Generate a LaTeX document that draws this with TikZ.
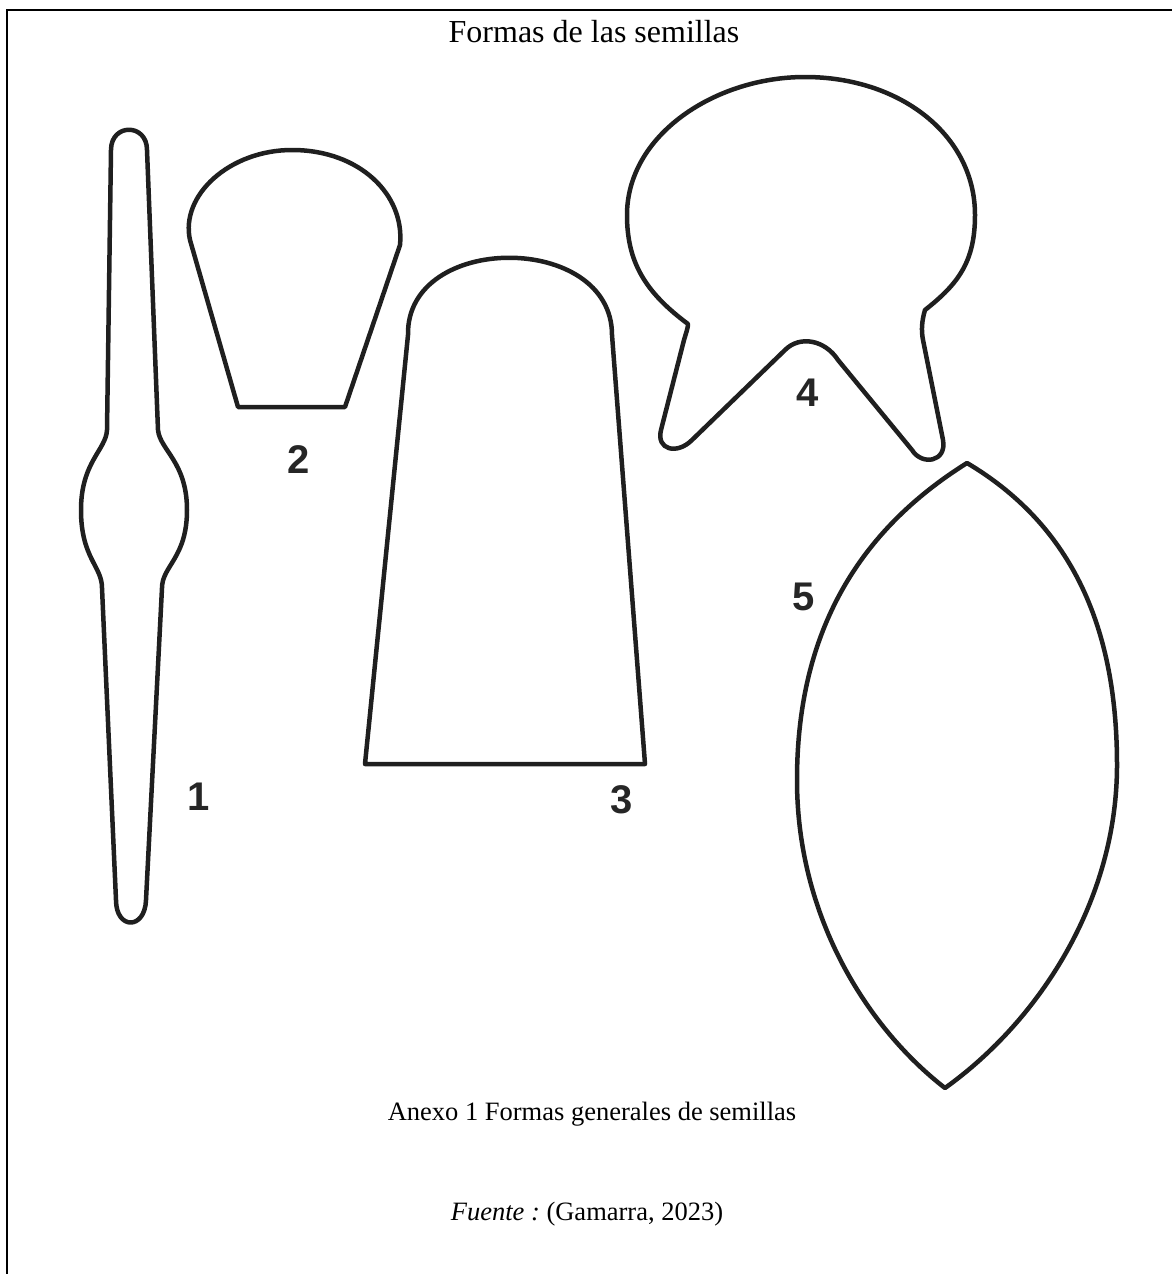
\documentclass[tikz,border=0pt]{standalone}
\usepackage{fontspec}
\setmainfont{Liberation Serif}
\newfontfamily\digitfont{Liberation Sans}
\frenchspacing
\begin{document}
\begin{tikzpicture}[x=1pt,y=-1pt,
  seed/.style={draw=black!88,line width=4.5pt,line join=round},
  tag/.style={font=\digitfont\bfseries\fontsize{40}{40}\selectfont,inner sep=0pt,text=black!85},
  frameline/.style={draw=black,line width=2.5pt}]
\useasboundingbox (0,0) rectangle (1172,1274);

% cell frame (top and left rules)
\draw[frameline] (7,1274) -- (7,10) -- (1172,10);

% title
\node[anchor=base,inner sep=0pt,font=\fontsize{32}{38}\selectfont] (title) at (594,42) {Formas de las semillas};

% 1: long seed with a central swelling
\draw[seed] (111,150) .. controls (111,123) and (147,123) .. (147,150)
  -- (158,430) .. controls (160,450) and (187,462) .. (187,510)
  .. controls (187,558) and (162,566) .. (162,588)
  -- (146,900) .. controls (145,930) and (116,930) .. (116,900)
  -- (102,588) .. controls (102,566) and (81,558) .. (81,510)
  .. controls (81,462) and (106,450) .. (107,430) -- cycle;
\node[tag] (n1) at (199,797) {1};

% 2: obovate seed with flat base
\draw[seed] (238,407) -- (190,240)
  .. controls (180,195) and (230,150) .. (292,150)
  .. controls (360,150) and (405,195) .. (400,245)
  -- (345,407) -- cycle;
\node[tag] (n2) at (299,460) {2};

% 3: tall seed with rounded top
\draw[seed] (365,764) -- (408,335)
  .. controls (406,232) and (612,232) .. (612,335)
  -- (645,764) -- cycle;
\node[tag] (n3) at (622,800) {3};

% 4: rounded seed with two feet
\draw[seed] (688,324) .. controls (645,292) and (627,262) .. (627,215)
  .. controls (627,135) and (715,77) .. (805,77)
  .. controls (900,77) and (975,135) .. (975,215)
  .. controls (975,262) and (958,284) .. (925,310)
  .. controls (922,320) and (921,330) .. (923,340)
  -- (943,440) .. controls (947,462) and (922,466) .. (912,450)
  -- (838,360) .. controls (825,340) and (800,335) .. (785,350)
  -- (692,440) .. controls (677,455) and (656,450) .. (661,430)
  -- (684,340) .. controls (686,333) and (688,328) .. (688,324) -- cycle;
\node[tag] (n4) at (808,393) {4};

% 5: lens-shaped seed
\draw[seed] (967,463) .. controls (860,530) and (797,630) .. (797,780)
  .. controls (797,920) and (870,1030) .. (945,1088)
  .. controls (1040,1020) and (1117,900) .. (1117,765)
  .. controls (1117,640) and (1080,530) .. (967,463) -- cycle;
\node[tag] (n5) at (804,597) {5};

% caption and source
\node[anchor=base,inner sep=0pt,font=\fontsize{26.5}{32}\selectfont] (caption) at (592,1120) {Anexo 1 Formas generales de semillas};
\node[anchor=base,inner sep=0pt,font=\fontsize{26.5}{32}\selectfont] (source) at (587,1220) {\textit{Fuente :} (Gamarra, 2023)};
\end{tikzpicture}
\end{document}
